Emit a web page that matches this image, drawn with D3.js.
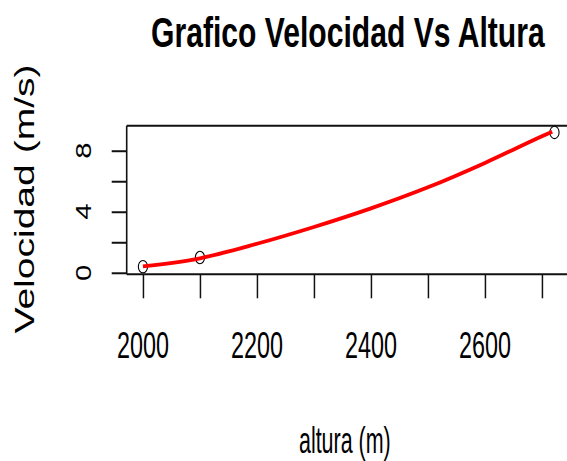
<!DOCTYPE html>
<html>
<head>
<meta charset="utf-8">
<script src="https://cdn.jsdelivr.net/npm/d3@7"></script>
<style>
  html, body { margin: 0; padding: 0; background: #ffffff; }
  svg { display: block; }
  text { font-family: "Liberation Sans", Arial, sans-serif; fill: #000; }
</style>
</head>
<body>
<svg id="chart" width="567" height="461"></svg>
<script>
// Measured points
const altura = [2000, 2100, 2722];
const velocidad = [0.4, 1.0, 9.2];

// Fitted curve (red line)
const curvaAltura = [2000, 2100, 2200, 2300, 2400, 2500, 2600, 2700, 2718];
const curvaVelocidad = [0.42, 0.95, 1.9, 3.0, 4.22, 5.6, 7.2, 8.95, 9.25];

// Axis ticks and labels
const xTicks = [2000, 2100, 2200, 2300, 2400, 2500, 2600, 2700];
const xLabels = [2000, 2200, 2400, 2600];
const yTicks = [0, 2, 4, 6, 8];
const yLabels = [0, 4, 8];

const titulo = "Grafico Velocidad Vs Altura";
const xTitulo = "altura (m)";
const yTitulo = "Velocidad (m/s)";

const svg = d3.select("#chart");
const plot = { left: 126.7, right: 571, top: 125.7, bottom: 274.3 };

const x = d3.scaleLinear().domain([1971.5, 2751]).range([plot.left, plot.right]);
const y = d3.scaleLinear().domain([-0.1, 9.64]).range([plot.bottom, plot.top]);

// Points (open circles)
svg.append("g")
  .selectAll("ellipse")
  .data(altura.map((a, i) => [a, velocidad[i]]))
  .join("ellipse")
  .attr("cx", d => x(d[0]))
  .attr("cy", d => y(d[1]))
  .attr("rx", 4.6)
  .attr("ry", 6.2)
  .attr("fill", "none")
  .attr("stroke", "#000")
  .attr("stroke-width", 1.1);

// x axis ticks
const xAxis = svg.append("g")
  .attr("transform", `translate(0,${plot.bottom})`)
  .call(d3.axisBottom(x).tickValues(xTicks).tickSize(24).tickFormat(""));
xAxis.select(".domain").remove();
xAxis.selectAll(".tick line").attr("stroke", "#111").attr("stroke-width", 1.5);

// y axis ticks
const yAxis = svg.append("g")
  .attr("transform", `translate(${plot.left},0)`)
  .call(d3.axisLeft(y).tickValues(yTicks).tickSize(15).tickFormat(""));
yAxis.select(".domain").remove();
yAxis.selectAll(".tick line").attr("stroke", "#111").attr("stroke-width", 2);

// plot frame (its right side lies just past the page edge)
svg.append("line").attr("x1", plot.left).attr("x2", plot.right)
  .attr("y1", plot.top).attr("y2", plot.top)
  .attr("stroke", "#111").attr("stroke-width", 2);
svg.append("line").attr("x1", plot.left).attr("x2", plot.right)
  .attr("y1", plot.bottom).attr("y2", plot.bottom)
  .attr("stroke", "#111").attr("stroke-width", 2);
svg.append("line").attr("x1", plot.left).attr("x2", plot.left)
  .attr("y1", plot.top).attr("y2", plot.bottom)
  .attr("stroke", "#111").attr("stroke-width", 1.6);
svg.append("line").attr("x1", plot.right).attr("x2", plot.right)
  .attr("y1", plot.top).attr("y2", plot.bottom)
  .attr("stroke", "#111").attr("stroke-width", 1.6);

// red curve
const line = d3.line()
  .x(d => x(d[0]))
  .y(d => y(d[1]))
  .curve(d3.curveMonotoneX);
svg.append("path")
  .datum(curvaAltura.map((a, i) => [a, curvaVelocidad[i]]))
  .attr("d", line)
  .attr("fill", "none")
  .attr("stroke", "#ff0000")
  .attr("stroke-width", 3.8);

// x tick labels (narrow, tall)
svg.append("g")
  .selectAll("text")
  .data(xLabels)
  .join("text")
  .attr("transform", d => `translate(${x(d)},358) scale(0.62,1)`)
  .attr("text-anchor", "middle")
  .attr("font-size", 37.7)
  .text(d => d);

// y tick labels (rotated, stretched along the axis)
svg.append("g")
  .selectAll("text")
  .data(yLabels)
  .join("text")
  .attr("transform", d => `translate(91,${y(d)}) rotate(-90) scale(1.3,1)`)
  .attr("text-anchor", "middle")
  .attr("font-size", 22.5)
  .text(d => d);

// title
svg.append("text")
  .attr("transform", `translate(${(plot.left + plot.right) / 2 - 1},47) scale(0.7,1)`)
  .attr("text-anchor", "middle")
  .attr("font-size", 43)
  .attr("font-weight", "bold")
  .text(titulo);

// x axis title
svg.append("text")
  .attr("transform", `translate(${(plot.left + plot.right) / 2 - 4},453) scale(0.58,1)`)
  .attr("text-anchor", "middle")
  .attr("font-size", 37)
  .text(xTitulo);

// y axis title
svg.append("text")
  .attr("transform", `translate(34,${(plot.top + plot.bottom) / 2 - 1}) rotate(-90) scale(1.37,1)`)
  .attr("text-anchor", "middle")
  .attr("font-size", 28.5)
  .text(yTitulo);
</script>
</body>
</html>
